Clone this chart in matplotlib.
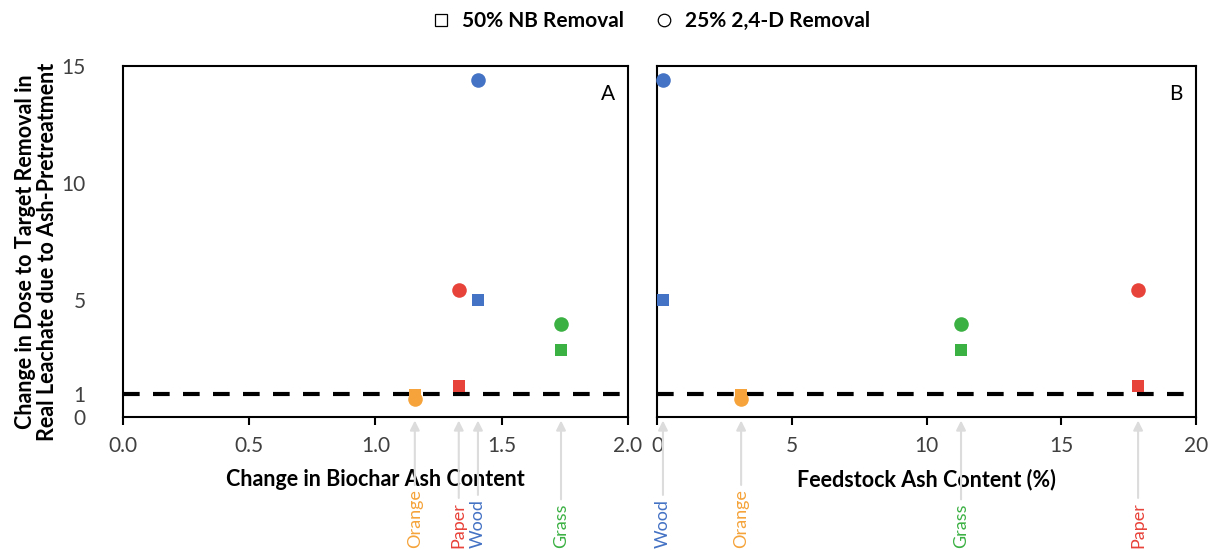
import matplotlib.pyplot as plt
from matplotlib.lines import Line2D

plt.rcParams['font.family'] = ['Lato', 'DejaVu Sans']

feedstocks = ["Wood", "Paper", "Grass", "Orange"]
colors = ["#4472C4", "#E8433A", "#3BB143", "#F5A33A"]

# panel A: change in biochar ash content
ash_change = [1.406, 1.33, 1.735, 1.156]
# panel B: feedstock ash content (%)
feed_ash = [0.22, 17.85, 11.28, 3.12]

nb_removal = [5.0, 1.32, 2.86, 0.94]      # squares, 50% NB removal
d24_removal = [14.4, 5.43, 3.97, 0.77]    # circles, 25% 2,4-D removal

fig = plt.figure(figsize=(12.08, 5.5), dpi=100)
axA = fig.add_axes([0.1018, 0.2418, 0.418, 0.638])
axB = fig.add_axes([0.5439, 0.2418, 0.4462, 0.638])

tick_color = '#404040'

def draw_panel(ax, xs, xlim, xticks, xticklabels, xlabel, letter):
    for x, sq, ci, c in zip(xs, nb_removal, d24_removal, colors):
        ax.scatter(x, sq, marker='s', s=80, color=c, zorder=3, linewidths=0)
        ax.scatter(x, ci, marker='o', s=110, color=c, zorder=3, linewidths=0, clip_on=False)
    ax.axhline(1, color='black', lw=3, dashes=(4, 3.2), zorder=2)
    ax.set_xlim(xlim)
    ax.set_ylim(0, 15)
    ax.set_xticks(xticks)
    ax.set_xticklabels(xticklabels, fontsize=15, color=tick_color)
    ax.set_xlabel(xlabel, fontsize=15.5, fontweight='bold', labelpad=9)
    ax.tick_params(axis='x', direction='out', length=6, width=1.5, pad=8)
    for s in ax.spines.values():
        s.set_linewidth(1.5)
    ax.text(0.975, 0.95, letter, transform=ax.transAxes, ha='right', va='top', fontsize=15)
    for x, name, c in zip(xs, feedstocks, colors):
        ax.annotate(name, xy=(x, -0.01), xycoords=('data', 'axes fraction'),
                    xytext=(x, 2), textcoords=('data', 'figure pixels'),
                    rotation=90, ha='center', va='bottom', fontsize=13, color=c,
                    arrowprops=dict(arrowstyle='-|>', color='#dcdcdc', lw=1.5,
                                    shrinkA=1, shrinkB=0, mutation_scale=14),
                    annotation_clip=False)

draw_panel(axA, ash_change, (0, 2.0), [0, 0.5, 1.0, 1.5, 2.0],
           ['0.0', '0.5', '1.0', '1.5', '2.0'], 'Change in Biochar Ash Content', 'A')
draw_panel(axB, feed_ash, (0, 20), [0, 5, 10, 15, 20],
           ['0', '5', '10', '15', '20'], 'Feedstock Ash Content (%)', 'B')

axA.set_yticks([0, 1, 5, 10, 15])
axA.set_yticklabels(['0', '1', '5', '10', '15'], fontsize=15, color=tick_color)
axA.tick_params(axis='y', length=0, pad=27)
axA.set_ylabel('Change in Dose to Target Removal in\nReal Leachate due to Ash-Pretreatment',
               fontsize=15.5, fontweight='bold', linespacing=1.05)
axA.yaxis.set_label_coords(-0.129, 0.47)
axB.set_yticks([])

handles = [Line2D([], [], marker='s', ls='none', mfc='white', mec='black', mew=0.9, ms=9),
           Line2D([], [], marker='o', ls='none', mfc='white', mec='black', mew=0.9, ms=9)]
fig.legend(handles, ['50% NB Removal', '25% 2,4-D Removal'], loc='center',
           bbox_to_anchor=(0.534, 0.962), ncol=2, frameon=False, handletextpad=0.0,
           columnspacing=0.9, prop={'weight': 'bold', 'size': 15})

fig.savefig('out.png', dpi=100)
